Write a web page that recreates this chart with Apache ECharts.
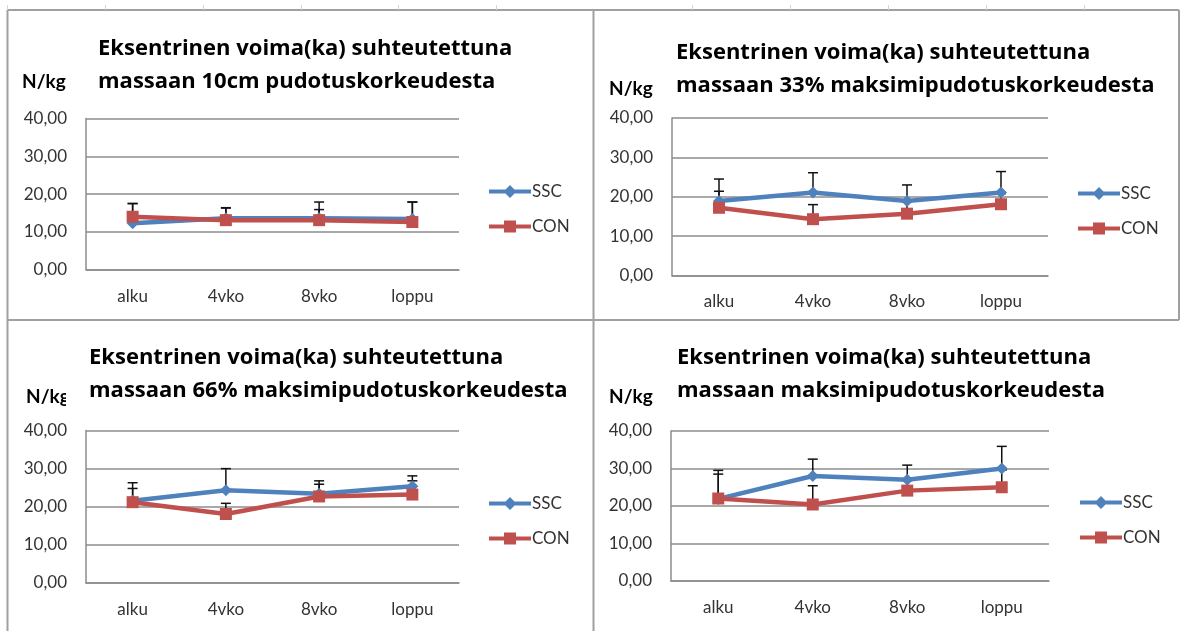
<!DOCTYPE html>
<html>
<head>
<meta charset="utf-8">
<script src="https://cdn.jsdelivr.net/npm/echarts@6/dist/echarts.min.js"></script>
<style>
  html, body { margin: 0; padding: 0; background: #fff; }
  #chart { width: 1181px; height: 631px; }
</style>
</head>
<body>
<div id="chart"></div>
<script>
// Measurement points and y tick labels
const categories = ['alku', '4vko', '8vko', 'loppu'];
const yTickLabels = ['0,00', '10,00', '20,00', '30,00', '40,00'];
const seriesNames = ['SSC', 'CON'];
const unitLabel = 'N/kg';

const titles = [
  'Eksentrinen voima(ka) suhteutettuna\nmassaan 10cm pudotuskorkeudesta',
  'Eksentrinen voima(ka) suhteutettuna\nmassaan 33% maksimipudotuskorkeudesta',
  'Eksentrinen voima(ka) suhteutettuna\nmassaan 66% maksimipudotuskorkeudesta',
  'Eksentrinen voima(ka) suhteutettuna\nmassaan maksimipudotuskorkeudesta'
];

// Means (N/kg) and standard deviations (upper error bars)
const ssc10 = [12.3, 13.6, 13.6, 13.4];
const con10 = [14.0, 13.1, 13.1, 12.6];
const ssc10Sd = [5.2, 2.8, 4.3, 4.5];
const con10Sd = [3.5, 3.2, 2.8, 5.3];

const ssc33 = [18.9, 21.1, 18.9, 21.1];
const con33 = [17.2, 14.3, 15.7, 18.1];
const ssc33Sd = [5.6, 5.0, 4.1, 5.3];
const con33Sd = [4.2, 3.7, 2.9, 2.7];

const ssc66 = [21.6, 24.3, 23.4, 25.4];
const con66 = [21.2, 18.1, 22.7, 23.2];
const ssc66Sd = [4.7, 5.7, 3.4, 2.7];
const con66Sd = [3.6, 2.8, 3.2, 3.6];

const sscMax = [21.9, 28.0, 27.0, 30.0];
const conMax = [22.0, 20.4, 24.1, 25.0];
const sscMaxSd = [7.6, 4.5, 3.9, 5.9];
const conMaxSd = [6.5, 5.0, 2.7, 4.6];

const panels = [
  { ssc: ssc10, con: con10, sscSd: ssc10Sd, conSd: con10Sd },
  { ssc: ssc33, con: con33, sscSd: ssc33Sd, conSd: con33Sd },
  { ssc: ssc66, con: con66, sscSd: ssc66Sd, conSd: con66Sd },
  { ssc: sscMax, con: conMax, sscSd: sscMaxSd, conSd: conMaxSd }
];

// Layout of the four chart boxes
const layout = [
  { grid: { left: 86, top: 118.6, width: 373, height: 151 }, title: { left: 92, top: 30 }, unit: [22, 83], legend: { left: 489, top: 183 } },
  { grid: { left: 672, top: 118, width: 376, height: 157.5 }, title: { left: 670, top: 34 }, unit: [609, 90], legend: { left: 1078, top: 185 } },
  { grid: { left: 86, top: 430.5, width: 373, height: 152.5 }, title: { left: 66, top: 339, pad: 23 }, unit: [26, 398], legend: { left: 489, top: 495 } },
  { grid: { left: 671, top: 431, width: 378, height: 150 }, title: { left: 671, top: 339 }, unit: [609, 398], legend: { left: 1080, top: 494 } }
];

const BLUE = '#4F81BD';
const RED = '#C0504D';
const FONT = 'Lato';
const TITLE_FONT = 'Open Sans';

// legend keys: a thick line with the series marker in the middle (42 x 14 box)
const legendIcons = {
  SSC: 'path://M0,5 L42,5 L42,9 L0,9 Z M21,0.5 L27.5,7 L21,13.5 L14.5,7 Z',
  CON: 'path://M0,5 L42,5 L42,9 L0,9 Z M15,1 L27,1 L27,13 L15,13 Z'
};

function errorBar(params, api) {
  const x = api.value(0);
  const mean = api.value(1);
  const p0 = api.coord([x, mean]);
  const p1 = api.coord([x, mean + api.value(2)]);
  const hw = 5;
  const style = { stroke: '#111', lineWidth: 1.5 };
  return {
    type: 'group',
    children: [
      { type: 'line', shape: { x1: p0[0], y1: p0[1], x2: p1[0], y2: p1[1] }, style },
      { type: 'line', shape: { x1: p1[0] - hw, y1: p1[1], x2: p1[0] + hw, y2: p1[1] }, style }
    ]
  };
}

const option = {
  animation: false,
  backgroundColor: '#fff',
  title: [], grid: [], xAxis: [], yAxis: [], legend: [], series: [], graphic: []
};

panels.forEach((p, i) => {
  const L = layout[i];
  option.title.push({
    text: titles[i],
    left: L.title.left,
    top: L.title.top,
    padding: [2, 4, 2, L.title.pad || 6],
    backgroundColor: '#fff',
    z: 10,
    textStyle: { fontFamily: TITLE_FONT, fontWeight: 'bold', fontSize: 22, lineHeight: 33, color: '#000' }
  });
  option.grid.push(Object.assign({ containLabel: false }, L.grid));
  option.xAxis.push({
    type: 'category', gridIndex: i, data: categories, boundaryGap: true,
    axisLine: { show: true, lineStyle: { color: '#8c8c8c', width: 1.5 } },
    axisTick: { show: false },
    axisLabel: { margin: 18, fontFamily: FONT, fontSize: 17, color: '#333' }
  });
  option.yAxis.push({
    type: 'value', gridIndex: i, min: 0, max: 40, interval: 10,
    axisLine: { show: true, lineStyle: { color: '#8c8c8c', width: 1.5 } },
    axisTick: { show: false },
    splitLine: { lineStyle: { color: '#8c8c8c', width: 1.5 } },
    axisLabel: {
      margin: 19, fontFamily: FONT, fontSize: 17, color: '#333',
      formatter: v => yTickLabels[Math.round(v / 10)]
    }
  });
  option.legend.push({
    data: seriesNames.map(n => ({ name: n, icon: legendIcons[n] })),
    orient: 'vertical',
    left: L.legend.left, top: L.legend.top,
    padding: 0,
    itemWidth: 42, itemHeight: 14, itemGap: 18,
    selectedMode: false,
    textStyle: { fontFamily: FONT, fontSize: 17, color: '#333', padding: [0, 0, 0, -4] }
  });
  // error bars sit under the lines and markers
  option.series.push({
    type: 'custom', xAxisIndex: i, yAxisIndex: i, z: 1, silent: true,
    renderItem: errorBar, encode: { x: 0, y: 1 },
    data: p.ssc.map((v, k) => [k, v, p.sscSd[k]])
  });
  option.series.push({
    type: 'custom', xAxisIndex: i, yAxisIndex: i, z: 1, silent: true,
    renderItem: errorBar, encode: { x: 0, y: 1 },
    data: p.con.map((v, k) => [k, v, p.conSd[k]])
  });
  option.series.push({
    name: seriesNames[0], type: 'line', xAxisIndex: i, yAxisIndex: i, z: 3,
    data: p.ssc, symbol: 'diamond', symbolSize: 12,
    lineStyle: { color: BLUE, width: 4.5 }, itemStyle: { color: BLUE }
  });
  option.series.push({
    name: seriesNames[1], type: 'line', xAxisIndex: i, yAxisIndex: i, z: 4,
    data: p.con, symbol: 'rect', symbolSize: 12,
    lineStyle: { color: RED, width: 4.5 }, itemStyle: { color: RED }
  });
  option.graphic.push({
    type: 'text', left: L.unit[0], top: L.unit[1] - 11, z: 5,
    style: { text: unitLabel, font: 'bold 19px ' + FONT, fill: '#000' }
  });
});

// sheet frame around the four chart boxes
const frame = '#a0a0a0';
const frameLines = [
  [7, 10, 1179, 10], [7, 320, 1179, 320],
  [7.5, 10, 7.5, 631], [593.5, 10, 593.5, 631], [1179, 10, 1179, 320]
];
frameLines.forEach(l => option.graphic.push({
  type: 'line', z: 0, silent: true,
  shape: { x1: l[0], y1: l[1], x2: l[2], y2: l[3] },
  style: { stroke: frame, lineWidth: 2 }
}));
// faint cell gridline stubs above the frame
[7, 105, 203, 301, 398, 496, 692, 790, 888, 986, 1084].forEach(x => option.graphic.push({
  type: 'line', z: 0, silent: true,
  shape: { x1: x + 0.5, y1: 5, x2: x + 0.5, y2: 10 },
  style: { stroke: '#d4d4d4', lineWidth: 1 }
}));

const chart = echarts.init(document.getElementById('chart'), null, { renderer: 'canvas' });
chart.setOption(option);
</script>
</body>
</html>
